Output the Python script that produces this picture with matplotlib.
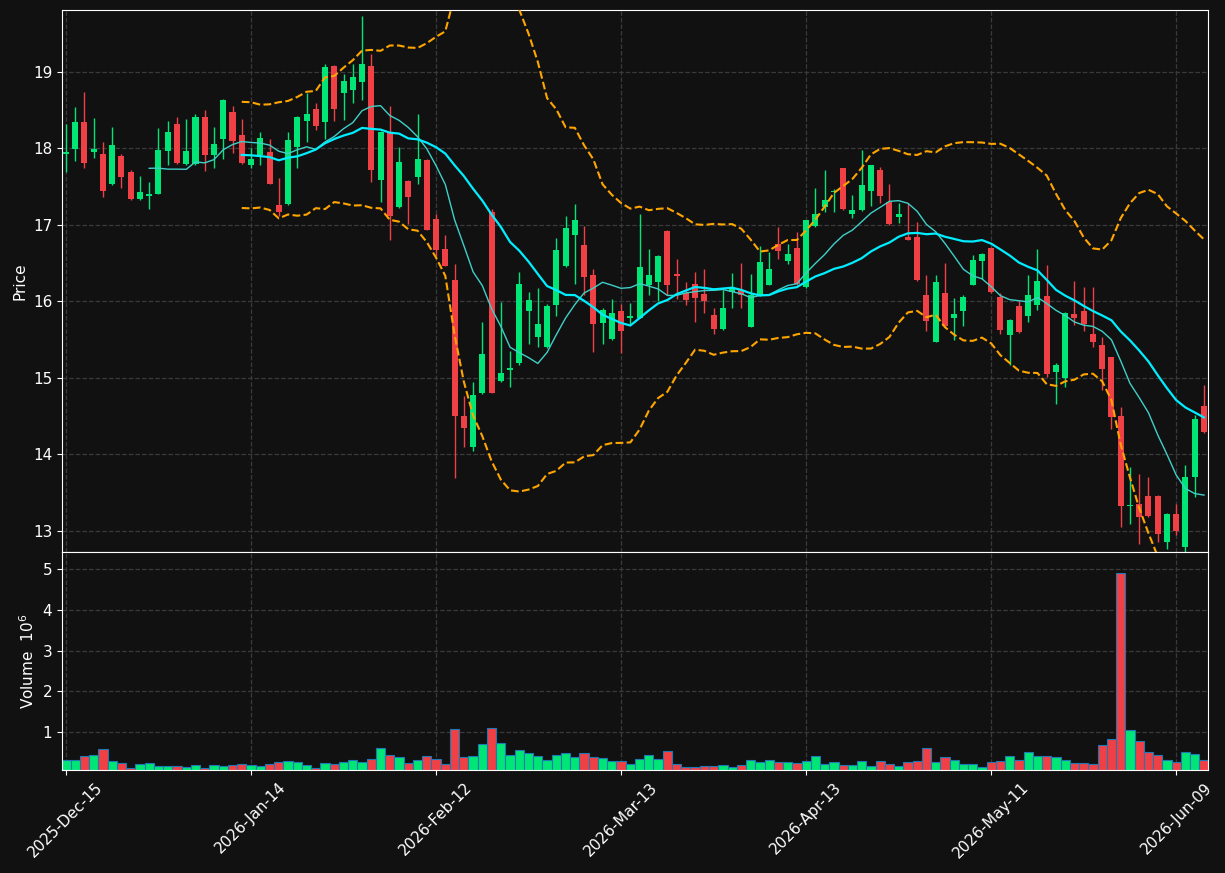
import numpy as np
import pandas as pd
import matplotlib
matplotlib.use('Agg')
import matplotlib.pyplot as plt

# OHLC, one row per trading day
opens = [17.93, 17.99, 18.35, 17.96, 17.93, 17.53, 17.90, 17.69, 17.34, 17.38,
         17.41, 17.97, 18.32, 17.80, 17.80, 18.41, 17.92, 18.12, 18.48, 18.17,
         17.79, 17.92, 17.95, 17.26, 17.27, 18.02, 18.36, 18.52, 18.34, 19.08,
         18.73, 18.77, 18.87, 19.08, 17.59, 18.22, 17.23, 17.58, 17.63, 17.85,
         17.08, 16.69, 16.28, 14.50, 14.10, 14.80, 17.17, 14.96, 15.10, 15.20,
         15.88, 15.54, 15.40, 15.95, 16.46, 16.87, 16.74, 16.34, 15.72, 15.51,
         15.88, 15.78, 15.79, 16.22, 16.25, 16.92, 16.36, 16.11, 16.23, 16.10,
         15.82, 15.64, 16.12, 16.15, 15.67, 16.08, 16.22, 16.75, 16.53, 16.70,
         16.19, 16.99, 17.24, 17.43, 17.74, 17.14, 17.19, 17.45, 17.72, 17.30,
         17.11, 16.84, 16.84, 16.09, 15.47, 16.11, 15.79, 15.87, 16.22, 16.53,
         16.70, 16.06, 15.56, 15.94, 15.81, 15.96, 16.07, 15.08, 15.00, 15.84,
         15.88, 15.58, 15.43, 15.27, 14.50, 13.32, 13.35, 13.46, 13.46, 12.86,
         13.22, 12.79, 13.70, 14.64]
highs = [18.32, 18.54, 18.74, 18.40, 18.08, 18.28, 17.93, 17.72, 17.64, 17.56,
         18.27, 18.36, 18.41, 18.39, 18.45, 18.50, 18.28, 18.65, 18.55, 18.39,
         18.00, 18.22, 18.12, 17.61, 18.22, 18.42, 18.72, 18.60, 19.10, 19.09,
         18.98, 19.10, 19.73, 19.24, 18.23, 18.56, 18.02, 17.59, 18.45, 17.86,
         17.15, 16.87, 16.49, 14.76, 14.95, 15.73, 17.21, 15.99, 15.35, 16.39,
         16.12, 16.17, 15.97, 16.83, 17.12, 17.28, 16.99, 16.42, 15.91, 16.03,
         15.97, 15.98, 17.15, 16.69, 16.61, 16.93, 16.56, 16.26, 16.38, 16.43,
         15.92, 16.15, 16.37, 16.50, 16.36, 16.73, 16.65, 16.98, 16.75, 16.91,
         17.07, 17.48, 17.72, 17.47, 17.75, 17.39, 17.98, 17.79, 17.76, 17.53,
         17.29, 17.29, 17.04, 16.34, 16.34, 16.50, 16.05, 16.08, 16.61, 16.63,
         16.71, 16.11, 15.77, 16.00, 16.34, 16.69, 16.48, 15.20, 15.86, 16.27,
         16.19, 16.19, 15.53, 15.28, 14.62, 13.83, 13.74, 13.70, 13.47, 13.24,
         13.35, 13.86, 14.52, 14.91]
lows = [17.69, 17.83, 17.75, 17.88, 17.37, 17.52, 17.48, 17.33, 17.33, 17.21,
        17.40, 17.78, 17.80, 17.79, 17.79, 17.70, 17.74, 17.86, 17.94, 17.80,
        17.74, 17.78, 17.54, 17.12, 17.26, 17.75, 18.08, 18.24, 18.12, 18.36,
        18.37, 18.60, 18.64, 17.56, 17.30, 16.81, 17.22, 17.01, 17.54, 16.93,
        16.60, 16.46, 13.69, 14.10, 14.04, 14.79, 14.80, 14.95, 14.88, 15.17,
        15.45, 15.40, 15.39, 15.81, 16.45, 16.23, 16.09, 15.34, 15.44, 15.50,
        15.33, 15.71, 15.78, 16.09, 16.01, 16.09, 16.03, 15.95, 15.73, 15.85,
        15.58, 15.63, 15.92, 15.92, 15.66, 16.07, 16.21, 16.55, 16.49, 16.22,
        16.18, 16.98, 17.17, 17.17, 17.20, 17.09, 17.18, 17.25, 17.29, 17.00,
        17.02, 16.80, 16.27, 15.62, 15.47, 15.67, 15.49, 15.68, 16.21, 16.30,
        16.11, 15.58, 15.17, 15.59, 15.73, 15.89, 15.01, 14.66, 14.88, 15.69,
        15.61, 15.41, 14.84, 14.33, 13.05, 13.09, 12.83, 13.18, 12.86, 12.77,
        12.95, 12.70, 13.45, 14.28]
closes = [17.96, 18.35, 17.81, 17.99, 17.44, 18.05, 17.63, 17.34, 17.43, 17.41,
          17.98, 18.22, 17.81, 17.97, 18.41, 17.92, 18.06, 18.63, 18.10, 17.81,
          17.86, 18.14, 17.54, 17.17, 18.11, 18.41, 18.45, 18.30, 19.07, 18.52,
          18.88, 18.93, 19.10, 17.72, 18.22, 17.12, 17.82, 17.37, 17.86, 16.94,
          16.67, 16.47, 14.50, 14.35, 14.78, 15.31, 14.81, 15.06, 15.13, 16.23,
          16.02, 15.71, 15.94, 16.67, 16.96, 17.07, 16.32, 15.70, 15.89, 15.85,
          15.61, 15.81, 16.45, 16.35, 16.59, 16.22, 16.33, 16.02, 16.05, 16.00,
          15.64, 15.91, 16.17, 16.08, 16.08, 16.51, 16.42, 16.66, 16.62, 16.23,
          17.06, 17.15, 17.33, 17.45, 17.21, 17.20, 17.52, 17.78, 17.38, 17.01,
          17.15, 16.81, 16.28, 15.74, 16.25, 15.68, 15.84, 16.06, 16.54, 16.62,
          16.12, 15.63, 15.76, 15.60, 16.09, 16.27, 15.05, 15.17, 15.85, 15.78,
          15.70, 15.47, 15.12, 14.49, 13.33, 13.34, 13.18, 13.19, 12.96, 13.22,
          13.00, 13.71, 14.47, 14.29]
volumes = [0.31, 0.31, 0.41, 0.43, 0.58, 0.29, 0.24, 0.12, 0.22, 0.24,
           0.17, 0.17, 0.17, 0.15, 0.19, 0.12, 0.19, 0.17, 0.19, 0.22,
           0.19, 0.17, 0.22, 0.26, 0.29, 0.26, 0.19, 0.12, 0.24, 0.22,
           0.26, 0.31, 0.26, 0.34, 0.60, 0.43, 0.38, 0.24, 0.31, 0.41,
           0.34, 0.22, 1.07, 0.38, 0.41, 0.71, 1.11, 0.73, 0.43, 0.56,
           0.49, 0.41, 0.31, 0.43, 0.49, 0.38, 0.49, 0.38, 0.36, 0.29,
           0.29, 0.22, 0.34, 0.43, 0.34, 0.53, 0.22, 0.14, 0.14, 0.17,
           0.17, 0.19, 0.14, 0.19, 0.31, 0.26, 0.31, 0.26, 0.26, 0.24,
           0.29, 0.41, 0.22, 0.26, 0.19, 0.19, 0.29, 0.17, 0.29, 0.22,
           0.17, 0.26, 0.29, 0.60, 0.26, 0.38, 0.31, 0.22, 0.22, 0.14,
           0.26, 0.29, 0.41, 0.31, 0.51, 0.41, 0.41, 0.38, 0.31, 0.24,
           0.24, 0.22, 0.68, 0.83, 4.90, 1.04, 0.77, 0.51, 0.43, 0.31,
           0.26, 0.51, 0.46, 0.31]

holidays = ['2025-12-25', '2026-01-01', '2026-01-19', '2026-02-16',
            '2026-04-03', '2026-05-25']
dates = pd.bdate_range('2025-12-15', periods=140, freq='C',
                       holidays=holidays)[:len(closes)]

df = pd.DataFrame({'Open': opens, 'High': highs, 'Low': lows,
                   'Close': closes, 'Volume': volumes}, index=dates)

mav10 = df['Close'].rolling(10).mean()
mav20 = df['Close'].rolling(20).mean()
std20 = df['Close'].rolling(20).std()
upper = mav20 + 2 * std20
lower = mav20 - 2 * std20

up_c = '#00e676'
down_c = '#ef4045'
bg = '#111111'
xpos = np.arange(len(df))
up = df['Close'] >= df['Open']
colors = np.where(up, up_c, down_c)

fig = plt.figure(figsize=(12.25, 8.73), dpi=100, facecolor=bg)
ax = fig.add_axes([0.0506, 0.3677, 0.9355, 0.6208])
axv = fig.add_axes([0.0506, 0.118, 0.9355, 0.2497], sharex=ax)

for a in (ax, axv):
    a.set_facecolor(bg)
    a.grid(color='#3a3a3a', linestyle='--', linewidth=0.9)
    a.set_axisbelow(True)
    for loc in a.spines:
        a.spines[loc].set_color('white')
    a.tick_params(colors='white', labelsize=11)

# candles
ax.vlines(xpos, df['Low'], df['High'], colors=colors, linewidth=1)
body_lo = np.minimum(df['Open'], df['Close'])
body_h = np.maximum(np.abs(df['Close'] - df['Open']), 0.02)
ax.bar(xpos, body_h, 0.65, bottom=body_lo, color=colors, zorder=3)

ax.plot(xpos, mav10, color='#3fd0c8', linewidth=1, zorder=4)
ax.plot(xpos, mav20, color='#00eeff', linewidth=1.6, zorder=4)
ax.plot(xpos, upper, color='orange', linestyle='--', linewidth=1.5, zorder=4)
ax.plot(xpos, lower, color='orange', linestyle='--', linewidth=1.5, zorder=4)

ax.set_ylim(12.725, 19.81)
ax.set_xlim(-0.43, len(df) - 0.57)
ax.set_ylabel('Price', color='white', fontsize=11)
plt.setp(ax.get_xticklabels(), visible=False)

# volume
axv.bar(xpos, df['Volume'], 1.0, color=colors, edgecolor='#1f77b4',
        linewidth=0.8)
axv.set_ylim(0.07, 5.42)
axv.set_yticks([1, 2, 3, 4, 5])
axv.set_ylabel('Volume  $10^{6}$', color='white', fontsize=11)

ticks = list(range(0, len(df), 20))
axv.set_xticks(ticks)
axv.set_xticklabels([dates[i].strftime('%Y-%b-%d') for i in ticks],
                    rotation=45, ha='center')

fig.savefig('out.png', dpi=100, facecolor=bg)
